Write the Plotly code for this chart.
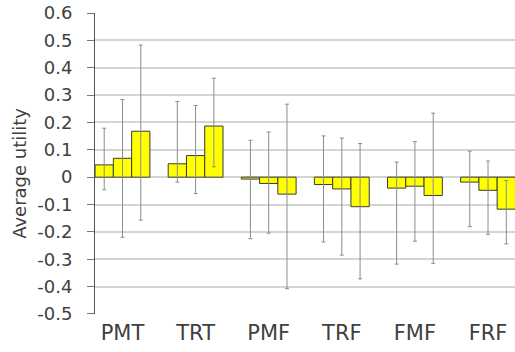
import plotly.graph_objects as go

categories = ["PMT", "TRT", "PMF", "TRF", "FMF", "FRF"]

# three series per category
series1 = [0.045, 0.049, -0.007, -0.027, -0.040, -0.018]
series2 = [0.069, 0.079, -0.023, -0.043, -0.033, -0.048]
series3 = [0.168, 0.187, -0.062, -0.108, -0.067, -0.117]

# error bar ends (upper, lower)
upper1 = [0.179, 0.277, 0.135, 0.151, 0.055, 0.095]
lower1 = [-0.046, -0.018, -0.225, -0.237, -0.318, -0.181]
upper2 = [0.284, 0.262, 0.165, 0.143, 0.130, 0.059]
lower2 = [-0.220, -0.060, -0.205, -0.285, -0.234, -0.209]
upper3 = [0.483, 0.362, 0.267, 0.123, 0.234, -0.012]
lower3 = [-0.157, 0.038, -0.408, -0.372, -0.315, -0.244]

y_ticks = [-0.5, -0.4, -0.3, -0.2, -0.1, 0, 0.1, 0.2, 0.3, 0.4, 0.5, 0.6]
y_tick_labels = ["-0.5", "-0.4", "-0.3", "-0.2", "-0.1", "0", "0.1", "0.2", "0.3", "0.4", "0.5", "0.6"]

FONT = "DejaVu Sans, sans-serif"
TXT = "#404040"

fig = go.Figure()
for vals, up, lo in [(series1, upper1, lower1), (series2, upper2, lower2), (series3, upper3, lower3)]:
    fig.add_trace(go.Bar(
        x=categories, y=vals,
        marker=dict(color="#ffff00", line=dict(color="#3a3a3a", width=1)),
        error_y=dict(
            type="data", symmetric=False,
            array=[u - v for u, v in zip(up, vals)],
            arrayminus=[v - l for v, l in zip(vals, lo)],
            color="#8c8c8c", thickness=1, width=2,
        ),
        showlegend=False,
    ))

fig.update_layout(
    width=515, height=352,
    margin=dict(l=95, r=0, t=13, b=38, autoexpand=False),
    paper_bgcolor="white", plot_bgcolor="white",
    barmode="group", bargap=0.25, bargroupgap=0,
    font=dict(family=FONT, color=TXT),
    xaxis=dict(
        type="category", range=[-0.376, 5.369], automargin=False,
        showgrid=False, showline=False, zeroline=False, ticks="",
        ticklabelstandoff=4,
        tickfont=dict(size=21, family=FONT, color=TXT),
    ),
    yaxis=dict(
        range=[-0.5004, 0.6004], tickvals=y_ticks, ticktext=y_tick_labels, automargin=False,
        showgrid=True, gridcolor="#d4d4d4", gridwidth=1.5,
        zeroline=True, zerolinecolor="#d4d4d4", zerolinewidth=1.5,
        showline=True, linecolor="#555555", linewidth=1,
        ticks="outside", ticklen=7, tickcolor="#777777", tickwidth=1,
        ticklabelstandoff=11,
        tickfont=dict(size=18, family=FONT, color=TXT),
    ),
    annotations=[dict(
        text="Average utility", textangle=-90,
        xref="paper", yref="paper", x=-0.1786, y=0.469,
        xanchor="center", yanchor="middle", showarrow=False,
        font=dict(size=18, family=FONT, color=TXT),
    )],
)

fig.write_html(
    "out.html",
    config={"displayModeBar": False},
    post_script="document.body.style.margin='0';document.body.style.overflow='hidden';",
)
